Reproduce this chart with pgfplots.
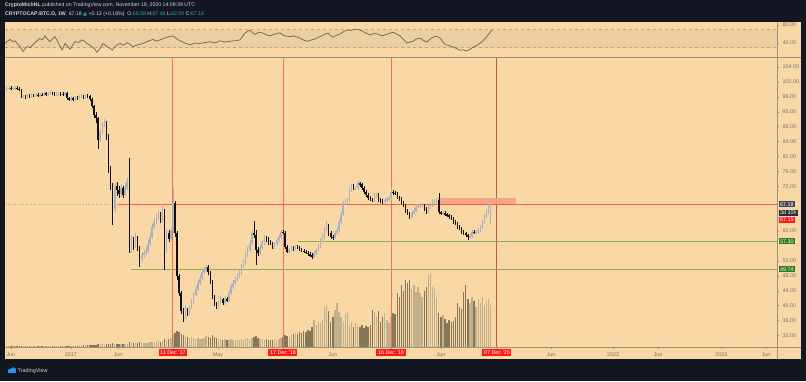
\documentclass[border=0pt]{standalone}
\usepackage{pgfplots}
\pgfplotsset{compat=1.18}
\usepackage{pgfplotstable}
\usepackage{fontspec}
\setmainfont{Liberation Sans}
\newfontfamily\dejavu{DejaVu Sans}
\definecolor{tvdark}{HTML}{131722}
\definecolor{bg}{HTML}{F9D8A6}
\definecolor{band}{HTML}{EBCFA0}
\definecolor{bandline}{HTML}{B9A68A}
\definecolor{rsiline}{HTML}{6E6350}
\definecolor{axisgray}{HTML}{9A9180}
\definecolor{ticktext}{HTML}{77736C}
\definecolor{vred}{HTML}{FF6A55}
\definecolor{vlast}{HTML}{B4604E}
\definecolor{hred}{HTML}{FF5A45}
\definecolor{gline}{HTML}{8CB04E}
\definecolor{gbox}{HTML}{2E7D1F}
\definecolor{boxred}{HTML}{FF1A1A}
\definecolor{boxgray}{HTML}{40475A}
\definecolor{boxdark}{HTML}{2A2E39}
\definecolor{upc}{HTML}{A9B0BE}
\definecolor{downc}{HTML}{111111}
\definecolor{volup}{HTML}{C2B08C}
\definecolor{voldown}{HTML}{86765A}
\definecolor{zone}{HTML}{F7A084}
\definecolor{hdrtext}{HTML}{D1D4DC}
\definecolor{tvteal}{HTML}{26A69A}
\definecolor{tvblue}{HTML}{2196F3}
\newcommand\tickfont{\fontsize{5.4}{6}\selectfont}
\newcommand\pricebox[2]{{\setlength{\fboxsep}{1.1pt}\colorbox{#1}{\color{white}#2}}}

% weekly candles: w = weeks after 11 Dec 2017; o c h l; v = volume (scaled)
\pgfplotstableread{
w o c h l v
-80 98.0 98.3 98.8 97.6 1
-79 98.3 98.4 98.9 97.9 1
-78 98.4 98.2 98.8 97.8 1.2
-77 98.2 98.3 98.7 97.8 1
-76 98.3 98.5 99.0 97.9 1
-75 98.5 98.2 98.9 97.8 1.2
-74 98.2 97.9 98.6 97.5 1
-73 97.9 96.0 98.2 95.6 1.3
-72 96.0 96.2 96.6 95.6 1
-71 96.2 96.0 96.6 95.5 1
-70 96.0 96.3 96.8 95.6 1.2
-69 96.3 96.0 96.7 95.6 1
-68 96.0 96.4 96.9 95.7 1
-67 96.4 96.3 96.8 95.9 1.2
-66 96.3 96.5 97.0 95.9 1
-65 96.5 96.3 96.9 95.9 1
-64 96.3 96.6 97.1 95.9 1.2
-63 96.6 96.5 97.0 96.1 1
-62 96.5 96.9 97.4 96.1 1
-61 96.9 96.7 97.3 96.3 1.2
-60 96.7 96.8 97.3 96.3 1
-59 96.8 97.0 97.5 96.4 1
-58 97.0 96.8 97.4 96.4 1.2
-57 96.8 96.6 97.2 96.1 1
-56 96.6 96.7 97.2 96.2 1.3
-55 96.7 96.9 97.4 96.3 1
-54 96.9 96.8 97.4 96.3 1
-53 96.8 96.7 97.2 96.2 1.2
-52 96.7 96.9 97.4 96.3 1
-51 96.9 95.6 97.2 95.1 1.5
-50 95.6 95.3 96.0 94.8 1.5
-49 95.3 95.6 96.1 94.9 1.4
-48 95.6 95.4 96.0 94.9 1.5
-47 95.4 95.8 96.3 95.0 1.6
-46 95.8 95.7 96.3 95.2 1.5
-45 95.7 96.0 96.5 95.3 1.6
-44 96.0 96.2 96.7 95.6 1.5
-43 96.2 95.9 96.6 95.5 1.7
-42 95.9 96.3 96.8 95.5 1.6
-41 96.3 96.1 96.7 95.7 1.8
-40 96.1 95.3 96.5 94.8 2
-39 95.3 93.5 95.7 93.0 2.2
-38 93.5 91.0 93.9 90.3 2.5
-37 91.0 90.2 92.0 89.0 2.4
-36 90.2 84.5 90.6 82.0 3
-35 84.5 86.5 87.5 84.0 2.8
-34 86.5 88.5 89.3 86.0 2.6
-33 88.5 89.2 90.0 87.8 2.5
-32 89.2 85.5 89.6 84.5 3
-31 85.5 76.4 86.0 75.5 3.5
-30 76.4 72.4 77.5 71.0 3.2
-29 72.4 66.0 73.0 61.6 4
-28 66.0 72.0 73.0 65.0 3.5
-27 72.0 71.0 73.2 69.5 3.2
-26 71.0 70.0 72.0 69.0 3
-25 70.0 71.5 72.5 69.2 3.5
-24 71.5 69.8 72.0 69.0 3.2
-23 69.8 71.5 72.8 69.3 3
-22 71.5 73.5 74.5 71.0 3.5
-21 73.5 55.0 79.6 54.0 5
-20 55.0 57.5 59.0 54.0 4
-19 57.5 56.0 58.5 55.0 4.5
-18 56.0 58.0 59.5 55.5 3.8
-17 58.0 55.5 58.6 54.8 4
-16 55.5 52.5 56.0 50.5 5
-15 52.5 53.5 54.5 51.8 4.2
-14 53.5 54.0 55.0 52.8 4
-13 54.0 54.8 55.8 53.5 4.5
-12 54.8 56.5 57.5 54.0 4.2
-11 56.5 58.5 59.5 56.0 4.8
-10 58.5 61.0 62.0 58.0 5
-9 61.0 62.5 63.5 60.5 5.5
-8 62.5 63.5 64.5 62.0 5
-7 63.5 64.5 65.5 63.0 6
-6 64.5 63.0 65.0 62.2 5.5
-5 63.0 65.5 66.6 62.5 6.5
-4 65.5 54.5 66.0 49.6 8
-3 54.5 59.5 60.5 54.0 7
-2 59.5 58.0 60.3 57.0 8
-1 58.0 60.0 61.0 57.5 9
0 60.0 67.5 71.6 59.5 12
1 67.5 59.5 68.0 58.5 14
2 59.5 48.0 60.0 47.0 16
3 48.0 43.4 48.5 42.5 15
4 43.4 38.5 44.0 37.8 13
5 38.5 37.0 39.5 35.7 12
6 37.0 38.8 39.8 36.5 11
7 38.8 38.0 39.5 37.2 10
8 38.0 39.5 40.3 37.5 9
9 39.5 41.0 41.8 39.0 10
10 41.0 43.0 43.8 40.5 9
11 43.0 44.5 45.3 42.5 8
12 44.5 46.0 46.8 44.0 9
13 46.0 47.5 48.3 45.5 8
14 47.5 49.0 49.8 47.0 8.5
15 49.0 49.6 50.3 48.5 9
16 49.6 50.4 51.0 49.0 11
17 50.4 49.0 50.8 48.3 10
18 49.0 46.4 49.4 45.8 9
19 46.4 42.3 46.8 41.8 12
20 42.3 40.5 42.8 40.0 10
21 40.5 39.7 41.0 39.0 9
22 39.7 41.0 41.6 39.2 8
23 41.0 41.8 42.5 40.5 8.5
24 41.8 40.8 42.2 40.3 7.5
25 40.8 41.8 42.5 40.3 8
26 41.8 41.5 42.3 41.0 7
27 41.5 43.5 44.2 41.0 7.5
28 43.5 45.0 45.7 43.0 8
29 45.0 46.0 46.8 44.5 7
30 46.0 47.0 47.8 45.5 7.5
31 47.0 48.0 48.8 46.5 8
32 48.0 48.8 49.5 47.5 7
33 48.8 50.5 51.2 48.3 8
34 50.5 51.4 52.2 50.0 7.5
35 51.4 53.5 54.3 51.0 8.5
36 53.5 55.0 55.8 53.0 9
37 55.0 56.8 57.6 54.5 8
38 56.8 59.5 60.3 56.3 9.5
39 59.5 59.0 62.7 58.2 10
40 59.0 55.0 60.3 50.9 11
41 55.0 54.0 55.8 53.2 9
42 54.0 55.5 56.3 53.5 8
43 55.5 56.8 57.5 55.0 8.5
44 56.8 58.2 58.9 56.3 7.5
45 58.2 57.8 58.8 57.2 8
46 57.8 57.0 58.3 56.4 7.5
47 57.0 56.8 57.6 56.2 7
48 56.8 55.8 57.2 55.2 7.5
49 55.8 56.5 57.1 55.3 8
50 56.5 57.6 58.2 56.0 7
51 57.6 58.5 59.1 57.1 8
52 58.5 59.8 60.4 58.0 9
53 59.8 59.6 60.4 59.1 10
54 59.6 55.8 60.0 55.2 12
55 55.8 54.5 56.2 54.0 11
56 54.5 55.0 55.6 54.0 10
57 55.0 55.5 56.1 54.6 12
58 55.5 55.3 56.0 54.8 13
59 55.3 55.8 56.4 54.9 14
60 55.8 55.6 56.3 55.1 13
61 55.6 55.0 56.0 54.6 15
62 55.0 54.8 55.5 54.3 14
63 54.8 54.5 55.3 54.0 16
64 54.5 54.2 55.0 53.8 15
65 54.2 53.8 54.7 53.3 17
66 53.8 53.6 54.3 53.1 16
67 53.6 53.1 54.0 52.6 20
68 53.1 54.0 54.6 52.7 27
69 54.0 55.0 55.6 53.6 22
70 55.0 56.0 56.6 54.6 25
71 56.0 57.5 58.1 55.6 24
72 57.5 58.5 59.1 57.0 27
73 58.5 60.5 61.2 58.0 40
74 60.5 61.6 62.8 60.0 42
75 61.6 59.5 62.0 58.8 36
76 59.5 58.5 60.0 57.8 25
77 58.5 58.2 59.0 57.6 30
78 58.2 59.5 60.1 57.8 37
79 59.5 60.3 61.0 59.0 44
80 60.3 62.5 63.2 59.8 35
81 62.5 64.5 65.2 62.0 30
82 64.5 67.5 68.2 64.0 26
83 67.5 67.8 68.5 66.9 33
84 67.8 68.3 69.0 67.2 35
85 68.3 71.0 71.7 67.8 22
86 71.0 71.9 72.6 70.5 25
87 71.9 71.5 72.5 70.9 20
88 71.5 71.5 72.2 70.9 24
89 71.5 72.8 73.4 71.0 21
90 72.8 72.5 73.2 71.9 20
91 72.5 71.6 72.9 71.0 22
92 71.6 70.5 72.0 70.0 19
93 70.5 69.7 71.0 69.2 21
94 69.7 68.9 70.2 68.4 20
95 68.9 68.5 69.4 68.0 22
96 68.5 68.3 69.0 67.8 37
97 68.3 69.5 70.1 67.9 35
98 69.5 69.7 70.3 69.0 30
99 69.7 68.3 70.1 67.8 36
100 68.3 68.1 68.8 67.6 25
101 68.1 67.9 68.6 67.4 30
102 67.9 68.3 68.9 67.4 34
103 68.3 68.5 69.1 67.9 27
104 68.5 68.8 69.4 68.0 24
105 68.8 70.6 71.2 68.4 30
106 70.6 70.3 71.0 69.8 34
107 70.3 70.1 70.8 69.6 33
108 70.1 69.0 70.5 68.5 54
109 69.0 68.8 69.5 68.2 50
110 68.8 67.8 69.2 67.2 62
111 67.8 67.0 68.2 66.4 56
112 67.0 65.5 67.4 64.9 67
113 65.5 64.8 66.0 64.2 64
114 64.8 63.9 65.2 63.2 67
115 63.9 64.8 65.4 63.4 58
116 64.8 65.5 66.1 64.3 62
117 65.5 66.6 67.2 65.0 55
118 66.6 66.8 67.4 66.1 60
119 66.8 67.0 67.6 66.3 54
120 67.0 67.0 67.6 66.4 50
121 67.0 66.0 67.4 65.5 56
122 66.0 65.2 66.4 64.7 60
123 65.2 66.5 67.1 64.8 72
124 66.5 67.0 67.6 66.0 74
125 67.0 67.9 68.5 66.5 60
126 67.9 68.0 68.6 67.4 58
127 68.0 68.3 68.9 67.5 50
128 68.3 65.0 70.1 64.6 34
129 65.0 64.8 65.4 64.3 30
130 64.8 64.9 65.4 64.3 32
131 64.9 64.5 65.3 64.0 28
132 64.5 64.3 64.9 63.8 24
133 64.3 63.8 64.7 63.3 27
134 63.8 63.4 64.2 62.9 25
135 63.4 62.5 63.8 62.0 26
136 62.5 62.1 62.9 61.6 30
137 62.1 61.2 62.5 60.7 44
138 61.2 60.7 61.6 60.2 40
139 60.7 59.8 61.1 59.3 38
140 59.8 59.4 60.2 58.9 55
141 59.4 59.0 59.8 58.5 62
142 59.0 58.5 59.3 57.6 48
143 58.5 58.7 59.3 58.0 44
144 58.7 59.8 60.4 58.2 50
145 59.8 59.6 60.2 59.1 46
146 59.6 59.8 60.4 59.1 40
147 59.8 60.3 60.9 59.3 48
148 60.3 61.0 61.6 59.8 44
149 61.0 62.5 63.1 60.5 50
150 62.5 64.0 64.6 62.0 42
151 64.0 65.2 65.8 63.5 46
152 65.2 67.06 67.7 64.7 48
153 65.58 67.18 67.46 62.0 42
}\candles

\begin{document}
\begin{tikzpicture}
\useasboundingbox (0,0) rectangle (806pt,381pt);
\fill[tvdark] (0,0) rectangle (806pt,381pt);
\fill[bg] (5pt,22pt) rectangle (801pt,359pt);

% header
\node[anchor=west, text=hdrtext, font=\fontsize{5.2}{6}\selectfont, inner sep=0pt] at (5pt,376pt)
  {\textbf{CryptoMichNL} published on TradingView.com, November 19, 2020 14:09:39 UTC};
\node[anchor=west, text=hdrtext, font=\fontsize{5.2}{6}\selectfont, inner sep=0pt] at (5pt,367pt)
  {\textbf{CRYPTOCAP:BTC.D, 1W}\ \ 67.18 {\color{tvteal}\dejavu ▲} +0.12 (+0.18\%)\ \ O:{\color{tvteal}65.58} H:{\color{tvteal}67.46} L:{\color{tvteal}62.00} C:{\color{tvteal}67.18}};

% footer logo
\fill[tvblue] (8pt,8.2pt) rectangle (16pt,10.6pt);
\fill[tvblue] (10.2pt,10.4pt) circle (2pt);
\fill[tvblue] (13.4pt,11pt) circle (2.7pt);
\node[anchor=west, text=hdrtext, font=\fontsize{5.4}{6}\selectfont, inner sep=0pt] at (17.5pt,10pt) {TradingView};

% RSI pane
\begin{axis}[
  at={(5pt,324pt)}, anchor=south west, scale only axis,
  width=772pt, height=35pt,
  xmin=-80.84, xmax=290.85, ymin=8.9, ymax=86.7,
  axis line style={draw=none},
  xtick=\empty,
  ytick={40,80}, yticklabels={40.00,80.00},
  ytick pos=right, yticklabel pos=right,
  tick align=outside, major tick length=2pt,
  every tick/.style={draw=axisgray, line width=0.5pt},
  tick label style={font=\tickfont, text=ticktext},
]
\addplot[fill=band, draw=none] coordinates {(-80.84,30) (290.85,30) (290.85,70) (-80.84,70)} -- cycle;
\addplot[bandline, dashed, line width=0.5pt] coordinates {(-80.84,70) (290.85,70)};
\addplot[bandline, dashed, line width=0.5pt] coordinates {(-80.84,30) (290.85,30)};
\addplot[rsiline, line width=0.7pt] coordinates {
(-80.8,39) (-79.6,44) (-78.4,48) (-77.2,43) (-76,45) (-74.8,38) (-73.6,32) (-72.2,21) (-71.2,27) (-70.2,32) (-68.8,30) (-67.4,36) (-65.7,44) (-64,50) (-62.8,47) (-61.6,56) (-60.4,49) (-59.2,43)
(-58,49) (-56.8,54) (-55.1,40) (-53.4,24) (-51.9,39) (-50.7,33) (-49.5,26) (-48.3,35) (-47.1,43) (-45.5,41) (-43.8,47) (-42.6,44) (-41.4,39) (-38.9,32) (-37.7,27) (-36.5,19) (-35.1,28)
(-33.7,39) (-32,33) (-30.3,28) (-29.1,24) (-27.9,32) (-26.7,36) (-25.5,39) (-23.8,35) (-22.1,41) (-20.6,37) (-19.2,32) (-17,36) (-14.4,39) (-12,44) (-9.6,48) (-8,44) (-6.2,47) (-4.5,50) (-2.8,53)
(0,56) (2.2,48) (4.4,43) (6.3,39) (8.2,36) (10.6,40) (13,39) (15.5,41) (17.9,43) (20.3,40) (22.7,45) (25.1,42) (27.5,44) (29.9,45) (32.3,47) (33.5,55) (34.7,62) (37.1,69)
(38.3,63) (39.5,59) (41.4,64) (43.4,62) (45.1,58) (46.8,56) (49.2,60) (51.6,63) (52.8,58) (54,56) (56.4,54) (58.1,56) (59.8,53) (61.2,51) (63.1,46) (65,44) (66.7,47) (68.4,49)
(70.1,53) (71.8,56) (73.2,60) (74.7,62) (75.8,57) (77,53) (78.7,57) (80.4,60) (82.1,65) (83.8,69) (85.7,68) (87.7,71) (89.3,70) (91,67) (92.9,62) (94.9,58) (96.8,61) (98.7,60) (100.4,56) (102.1,58)
(104,61) (106,64) (107.6,60) (109.3,56) (111,48) (112.7,40) (114.1,42) (115.6,44) (117.3,49) (119,51) (120.6,46) (122.3,42) (123.7,48) (125.2,53) (126.9,55) (128.6,51) (130,42) (131.5,36) (133.2,34) (134.9,31)
(136.5,28) (138.2,24) (139.7,25) (141.2,22) (142.6,25) (144,29) (145.4,33) (146.9,36) (148.3,41) (149.8,47) (151.7,58) (153.6,69)};
\end{axis}

% volume (own scale)
\begin{axis}[
  at={(5pt,34pt)}, anchor=south west, scale only axis,
  width=772pt, height=290pt,
  xmin=-80.84, xmax=290.85, ymin=0, ymax=290,
  hide axis,
]
\addplot[ycomb, volup, line width=1.35pt, mark=none,
  restrict expr to domain={\thisrow{c}-\thisrow{o}}{0:1000}] table[x=w, y=v] {\candles};
\addplot[ycomb, voldown, line width=1.35pt, mark=none,
  restrict expr to domain={\thisrow{c}-\thisrow{o}}{-1000:-0.00001}] table[x=w, y=v] {\candles};
\end{axis}

% price pane
\begin{axis}[
  at={(5pt,34pt)}, anchor=south west, scale only axis,
  width=772pt, height=290pt,
  xmin=-80.84, xmax=290.85, ymin=28.93, ymax=106.68,
  axis line style={draw=none},
  xtick pos=bottom, ytick pos=right, yticklabel pos=right,
  tick align=outside, major tick length=2pt,
  every tick/.style={draw=axisgray, line width=0.5pt},
  tick label style={font=\tickfont, text=ticktext},
  xtick={-78.0,-49.1,-26.4,21.7,77.1,129.1,182.0,212.0,233.6,264.0,285.6},
  xticklabels={Jun,2017,Jun,May,Jun,Jun,Jun,2022,Jun,2023,Jun},
  extra x ticks={0,53,105,156},
  extra x tick labels={11 Dec '17,17 Dec '18,16 Dec '19,07 Dec '20},
  extra x tick style={tick label style={fill=boxred, text=white, inner sep=1.6pt}},
  ytick={32,36,40,44,48,52,60,72,76,80,84,88,92,96,100,104},
  yticklabels={32.00,36.00,40.00,44.00,48.00,52.00,60.00,72.00,76.00,80.00,84.00,88.00,92.00,96.00,100.00,104.00},
  extra y ticks={67.18,64.94,63.0,57.30,49.74},
  extra y tick labels={{\pricebox{boxgray}{67.18}},{\pricebox{boxdark}{3d 10h}},{\pricebox{boxred}{67.15}},{\pricebox{gbox}{57.30}},{\pricebox{gbox}{49.74}}},
  extra y tick style={major tick length=0pt, tick label style={xshift=-1.5pt}},
]
% vertical date markers
\addplot[vred, line width=0.9pt] coordinates {(0,28.93) (0,106.68)};
\addplot[vred, line width=0.9pt] coordinates {(53,28.93) (53,106.68)};
\addplot[vred, line width=0.9pt] coordinates {(105,28.93) (105,106.68)};
\addplot[vlast, line width=0.9pt] coordinates {(156,28.93) (156,106.68)};
% horizontal levels
\addplot[gray!70, dotted, line width=0.6pt] coordinates {(-80.84,67.18) (290.85,67.18)};
\addplot[fill=zone, draw=none, fill opacity=0.9] coordinates {(127.6,67.18) (165.2,67.18) (165.2,68.8) (127.6,68.8)} -- cycle;
\addplot[hred, line width=1.2pt] coordinates {(-26.4,67.18) (290.85,67.18)};
\addplot[gline, line width=1.2pt] coordinates {(60.2,57.30) (290.85,57.30)};
\addplot[gline, line width=1.2pt] coordinates {(-20.2,49.74) (290.85,49.74)};
% candles: up
\addplot[draw=none, mark=none, restrict expr to domain={\thisrow{c}-\thisrow{o}}{0:1000},
  error bars/.cd, y dir=both, y explicit, error mark=none, error bar style={draw=upc, line width=0.5pt}]
  table[x=w, y expr={(\thisrow{h}+\thisrow{l})/2}, y error expr={(\thisrow{h}-\thisrow{l})/2}] {\candles};
\addplot[draw=none, mark=none, restrict expr to domain={\thisrow{c}-\thisrow{o}}{0:1000},
  error bars/.cd, y dir=both, y explicit, error mark=none, error bar style={draw=upc, line width=1.45pt}]
  table[x=w, y expr={(\thisrow{o}+\thisrow{c})/2}, y error expr={abs(\thisrow{c}-\thisrow{o})/2}] {\candles};
% candles: down
\addplot[draw=none, mark=none, restrict expr to domain={\thisrow{c}-\thisrow{o}}{-1000:-0.00001},
  error bars/.cd, y dir=both, y explicit, error mark=none, error bar style={draw=downc, line width=0.5pt}]
  table[x=w, y expr={(\thisrow{h}+\thisrow{l})/2}, y error expr={(\thisrow{h}-\thisrow{l})/2}] {\candles};
\addplot[draw=none, mark=none, restrict expr to domain={\thisrow{c}-\thisrow{o}}{-1000:-0.00001},
  error bars/.cd, y dir=both, y explicit, error mark=none, error bar style={draw=downc, line width=1.45pt}]
  table[x=w, y expr={(\thisrow{o}+\thisrow{c})/2}, y error expr={abs(\thisrow{c}-\thisrow{o})/2}] {\candles};
\end{axis}

% pane borders
\draw[axisgray, line width=0.6pt] (5pt,324pt) -- (801pt,324pt);
\draw[axisgray, line width=0.6pt] (5pt,34pt) -- (801pt,34pt);
\draw[axisgray, line width=0.6pt] (777pt,22pt) -- (777pt,359pt);
\end{tikzpicture}
\end{document}
